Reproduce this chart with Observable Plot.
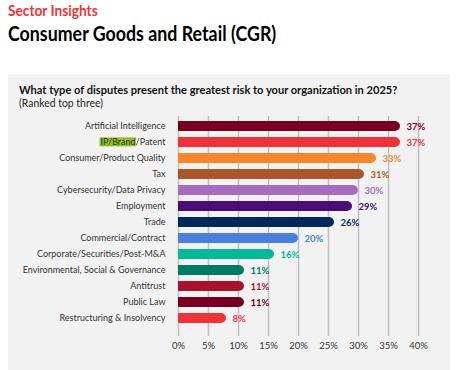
<!DOCTYPE html>
<html>
<head>
<meta charset="utf-8">
<script src="https://cdn.jsdelivr.net/npm/d3@7"></script>
<script src="https://cdn.jsdelivr.net/npm/@observablehq/plot@0.6"></script>
<style>
  html, body { margin: 0; padding: 0; background: #ffffff; }
  body { width: 457px; height: 370px; position: relative; overflow: hidden; font-family: Lato, sans-serif; }
  .t { position: absolute; white-space: nowrap; transform-origin: 0 0; line-height: 1; }
  #kicker { left: 8px; top: 3.9px; font-size: 14.5px; font-weight: bold; color: #ee3338; transform: scaleX(0.945); }
  #title { left: 8px; top: 23.3px; font-size: 20px; font-weight: bold; color: #000; transform: scaleX(0.89); }
  #panel { position: absolute; left: 8px; top: 74px; width: 442px; height: 300px; background: #f2f2f2; }
  #q { left: 11px; top: 10.4px; font-size: 12px; font-weight: bold; color: #111; transform: scaleX(0.923); }
  #sub { left: 11px; top: 23.4px; font-size: 11px; color: #222; transform: scaleX(0.947); }
  #chart { position: absolute; left: 0; top: 38px; }
</style>
</head>
<body>
<div id="kicker" class="t">Sector Insights</div>
<div id="title" class="t">Consumer Goods and Retail (CGR)</div>
<div id="panel">
  <div id="q" class="t">What type of disputes present the greatest risk to your organization in 2025?</div>
  <div id="sub" class="t">(Ranked top three)</div>
  <div id="chart"></div>
</div>
<script>
const categories = [
  "Artificial Intelligence",
  "IP/Brand/Patent",
  "Consumer/Product Quality",
  "Tax",
  "Cybersecurity/Data Privacy",
  "Employment",
  "Trade",
  "Commercial/Contract",
  "Corporate/Securities/Post-M&A",
  "Environmental, Social & Governance",
  "Antitrust",
  "Public Law",
  "Restructuring & Insolvency"
];
const values = [37, 37, 33, 31, 30, 29, 26, 20, 16, 11, 11, 11, 8];
const colors = [
  "#78001f", "#ee3338", "#f5862a", "#a8562a", "#a86cbf", "#4b0c78", "#00295a",
  "#4a80dc", "#00b996", "#007a63", "#a9122b", "#730021", "#ee3338"
];
const xTicks = [0, 5, 10, 15, 20, 25, 30, 35, 40];

const data = categories.map((c, i) => ({category: c, value: values[i], color: colors[i]}));

const chart = Plot.plot({
  width: 442,
  height: 258,
  marginLeft: 170,
  marginRight: 32,
  marginTop: 4,
  marginBottom: 34,
  style: {background: "transparent", fontFamily: "Lato, sans-serif", fontSize: "9px", color: "#333"},
  color: {type: "identity"},
  x: {domain: [0, 40], label: null},
  y: {domain: categories, paddingInner: 0.36, paddingOuter: 0.38, align: 0.28, label: null},
  marks: [
    Plot.gridX(xTicks, {stroke: "#bfbfbf", strokeOpacity: 1, strokeWidth: 1.5}),
    Plot.axisX(xTicks, {tickSize: 0, tickPadding: 6, tickFormat: d => d + "%", fontSize: 9.5, label: null}),
    Plot.axisY({tickSize: 0, tickPadding: 13, label: null, fontSize: 9}),
    Plot.barX(data, {y: "category", x: "value", fill: "color", rx: 5.5}),
    Plot.barX(data, {y: "category", x1: 0, x2: d => d.value / 2, fill: "color"}),
    Plot.text(data, {y: "category", x: "value", text: d => d.value + "%", fill: "color",
      textAnchor: "start", dx: 6, fontWeight: "bold", fontSize: 9.5})
  ]
});
document.getElementById("chart").appendChild(chart);

// highlight "IP/Brand" in the category label
chart.querySelectorAll("text").forEach(t => {
  if (t.textContent === "IP/Brand/Patent") {
    try {
      const start = t.getStartPositionOfChar(0);
      const w = t.getSubStringLength(0, 8);
      const bb = t.getBBox();
      const r = document.createElementNS("http://www.w3.org/2000/svg", "rect");
      r.setAttribute("x", start.x - 1);
      r.setAttribute("y", bb.y + 1);
      r.setAttribute("width", w + 1);
      r.setAttribute("height", bb.height - 2);
      r.setAttribute("fill", "#8dc21f");
      const tr = t.getAttribute("transform");
      if (tr) r.setAttribute("transform", tr);
      t.parentNode.insertBefore(r, t);
    } catch (e) {}
  }
});
</script>
</body>
</html>
